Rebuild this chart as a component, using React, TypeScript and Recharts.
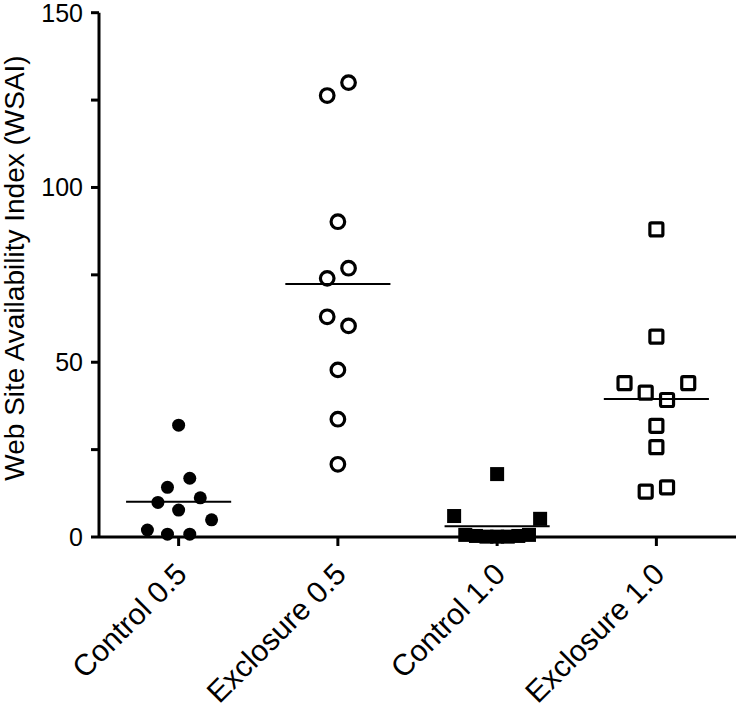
import React from "react";
import { ReferenceLine, Scatter, ScatterChart, XAxis, YAxis } from "recharts";

const FONT = "'Liberation Sans', Arial, sans-serif";

const categories = ["Control 0.5", "Exclosure 0.5", "Control 1.0", "Exclosure 1.0"];
const yTicks = [0, 25, 50, 75, 100, 125, 150];

// values, with the sideways spread of each point (1 = first group)
const control05 = [32, 16.8, 14.2, 11.2, 9.9, 7.7, 4.9, 2.0, 0.8, 0.8];
const control05X = [1, 1.07, 0.93, 1.136, 0.87, 1, 1.207, 0.804, 0.93, 1.07];
const exclosure05 = [130, 126.3, 90.2, 76.9, 74, 63, 60.4, 47.8, 33.7, 20.8];
const exclosure05X = [2.067, 1.933, 2, 2.067, 1.933, 1.933, 2.067, 2, 2, 2];
const control10 = [18, 6, 5.2, 0.6, 0.3, 0.1, 0.1, 0.1, 0.3, 0.6];
const control10X = [3, 2.73, 3.27, 2.8, 2.867, 2.933, 3, 3.067, 3.133, 3.2];
const exclosure10 = [88, 57.3, 44, 44, 41.3, 39.2, 31.8, 25.7, 13, 14.2];
const exclosure10X = [4, 4, 3.8, 4.2, 3.933, 4.067, 4, 4, 3.933, 4.067];

const medians = [10.1, 72.4, 3.1, 39.5];
const medianHalfWidth = 0.33;

const pts = (ys: number[], xs: number[]) => ys.map((y, i) => ({ x: xs[i], y }));

const FilledCircle = (p: any) => <circle cx={p.cx} cy={p.cy} r={6.5} fill="#000" />;
const OpenCircle = (p: any) => (
  <circle cx={p.cx} cy={p.cy} r={6.8} fill="none" stroke="#000" strokeWidth={3.2} />
);
const FilledSquare = (p: any) => <rect x={p.cx - 7} y={p.cy - 7} width={14} height={14} fill="#000" />;
const OpenSquare = (p: any) => (
  <rect x={p.cx - 6.5} y={p.cy - 6.5} width={13} height={13} rx={1.5} fill="none" stroke="#000" strokeWidth={3.2} />
);

function XTick({ x, y, payload }: any) {
  return (
    <g transform={`translate(${x + 10},${y + 28})`}>
      <text x={0} y={0} textAnchor="end" transform="rotate(-45)" fontSize={30} fontFamily={FONT} fill="#000">
        {categories[payload.value - 1]}
      </text>
    </g>
  );
}

function YTitle() {
  return (
    <text transform="translate(24,268) rotate(-90)" textAnchor="middle" fontSize={28} fontFamily={FONT} fill="#000">
      Web Site Availability Index (WSAI)
    </text>
  );
}

export default function App() {
  return (
    <div style={{ position: "absolute", left: 0, top: 0, background: "#fff" }}>
      <ScatterChart width={736} height={711} margin={{ top: 12.7, right: 0, bottom: 14, left: 0 }}>
        <XAxis
          type="number"
          dataKey="x"
          domain={[0.5, 4.5]}
          ticks={[1, 2, 3, 4]}
          height={160}
          axisLine={{ stroke: "#000", strokeWidth: 3 }}
          tickLine={{ stroke: "#000", strokeWidth: 3 }}
          tickSize={9}
          tick={<XTick />}
          interval={0}
        />
        <YAxis
          type="number"
          dataKey="y"
          domain={[0, 150]}
          ticks={yTicks}
          width={99}
          interval={0}
          axisLine={{ stroke: "#000", strokeWidth: 3 }}
          tickLine={{ stroke: "#000", strokeWidth: 3 }}
          tickSize={8}
          tickMargin={8}
          tickFormatter={(v) => (v % 50 === 0 ? String(v) : "")}
          tick={{ fill: "#000", fontSize: 25, fontFamily: FONT }}
          label={{ content: () => <YTitle /> }}
        />
        {medians.map((m, i) => (
          <ReferenceLine
            key={i}
            segment={[
              { x: i + 1 - medianHalfWidth, y: m },
              { x: i + 1 + medianHalfWidth, y: m },
            ]}
            stroke="#000"
            strokeWidth={2}
          />
        ))}
        <Scatter data={pts(control05, control05X)} shape={<FilledCircle />} isAnimationActive={false} />
        <Scatter data={pts(exclosure05, exclosure05X)} shape={<OpenCircle />} isAnimationActive={false} />
        <Scatter data={pts(control10, control10X)} shape={<FilledSquare />} isAnimationActive={false} />
        <Scatter data={pts(exclosure10, exclosure10X)} shape={<OpenSquare />} isAnimationActive={false} />
      </ScatterChart>
    </div>
  );
}
